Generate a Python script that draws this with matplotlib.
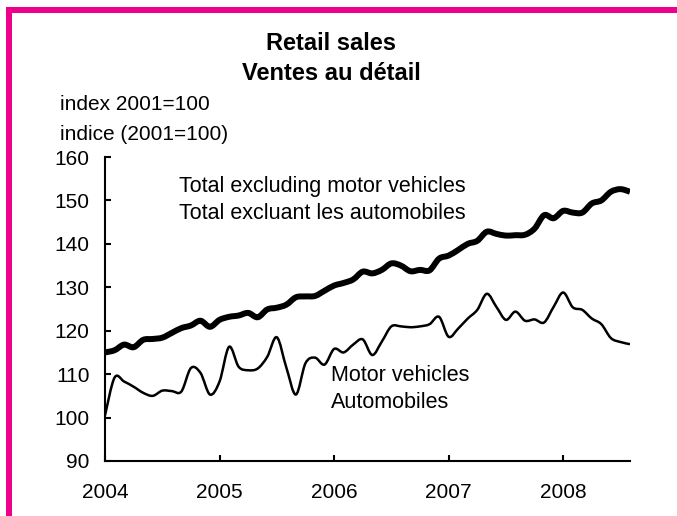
import numpy as np
import matplotlib
matplotlib.use("Agg")
import matplotlib.pyplot as plt
from matplotlib.patches import Rectangle, PathPatch
from matplotlib.path import Path

plt.rcParams["font.family"] = ["Liberation Sans", "DejaVu Sans"]

# Monthly index values, Jan 2004 - Aug 2008 (2001=100)
months = 2004 + np.arange(56) / 12.0

total_excl_motor = [
    115.0, 115.5, 116.8, 116.2, 117.9, 118.1, 118.4, 119.5, 120.6, 121.2, 122.3, 120.9,
    122.5, 123.2, 123.5, 124.1, 123.1, 124.9, 125.3, 126.0, 127.7, 127.9, 128.0, 129.2,
    130.4, 131.0, 131.8, 133.6, 133.2, 134.0, 135.5, 135.0, 133.7, 134.0, 133.9, 136.6,
    137.3, 138.6, 140.0, 140.7, 142.8, 142.3, 141.9, 142.0, 142.1, 143.5, 146.6, 145.9,
    147.6, 147.2, 147.2, 149.3, 150.0, 152.0, 152.6, 152.0,
]

motor_vehicles = [
    100.5, 109.2, 108.3, 107.1, 105.7, 105.0, 106.2, 106.1, 106.0, 111.4, 110.3, 105.3,
    108.3, 116.3, 111.7, 110.9, 111.3, 114.0, 118.5, 111.5, 105.3, 112.5, 113.8, 112.2,
    115.8, 115.0, 116.8, 118.0, 114.4, 117.5, 121.0, 121.0, 120.8, 121.0, 121.5, 123.2,
    118.6, 120.5, 122.8, 124.8, 128.5, 125.5, 122.5, 124.4, 122.3, 122.6, 121.9, 125.5,
    128.8, 125.4, 124.8, 122.8, 121.5, 118.3, 117.4, 116.9,
]

year_ticks = [2004, 2005, 2006, 2007, 2008]
y_ticks = [90, 100, 110, 120, 130, 140, 150, 160]


def smooth_path(x, y):
    # spreadsheet-style smoothed line: bezier segments through every data point
    p = np.column_stack([x, y])
    n = len(p)
    verts = [p[0]]
    codes = [Path.MOVETO]
    for i in range(n - 1):
        p0 = p[max(i - 1, 0)]
        p3 = p[min(i + 2, n - 1)]
        c1 = p[i] + (p[i + 1] - p0) / 6.0
        c2 = p[i + 1] - (p3 - p[i]) / 6.0
        verts += [c1, c2, p[i + 1]]
        codes += [Path.CURVE4] * 3
    return Path(verts, codes)


fig = plt.figure(figsize=(6.77, 5.16), dpi=100)
ax = fig.add_axes([105 / 677, 55 / 516, 525 / 677, 304 / 516])

ax.add_patch(PathPatch(smooth_path(months, total_excl_motor), fill=False,
                       edgecolor="black", linewidth=4.3, joinstyle="round", capstyle="butt"))
ax.add_patch(PathPatch(smooth_path(months, motor_vehicles), fill=False,
                       edgecolor="black", linewidth=1.8, joinstyle="round", capstyle="butt"))

ax.set_xlim(2004, 2004 + 55 / 12.0)
ax.set_ylim(90, 160)
ax.set_xticks(year_ticks)
ax.set_xticklabels([str(y) for y in year_ticks])
ax.set_yticks(y_ticks)

for s in ["top", "right"]:
    ax.spines[s].set_visible(False)
for s in ["left", "bottom"]:
    ax.spines[s].set_linewidth(1.5)

ax.tick_params(axis="both", direction="in", length=4.5, width=1.5, labelsize=15)
ax.tick_params(axis="y", pad=11)
ax.tick_params(axis="x", pad=16)

# annotations
ax.text(2004.65, 153.3, "Total excluding motor vehicles", fontsize=15.5, va="center")
ax.text(2004.65, 146.9, "Total excluant les automobiles", fontsize=15.5, va="center")
ax.text(2005.97, 109.6, "Motor vehicles", fontsize=15.5, va="center")
ax.text(2005.97, 103.4, "Automobiles", fontsize=15.5, va="center")

fig.text(331 / 677, 1 - 44 / 516, "Retail sales", fontsize=17, fontweight="bold", ha="center", va="center")
fig.text(331 / 677, 1 - 73 / 516, "Ventes au détail", fontsize=17, fontweight="bold", ha="center", va="center")
fig.text(60 / 677, 1 - 105 / 516, "index 2001=100", fontsize=15, va="center")
fig.text(60 / 677, 1 - 134 / 516, "indice (2001=100)", fontsize=15, va="center")

# pink frame (top and left)
pink = "#ec008c"
fig.add_artist(Rectangle((6 / 677, 0), 6 / 677, 1 - 7 / 516, transform=fig.transFigure, color=pink, lw=0))
fig.add_artist(Rectangle((6 / 677, 1 - 13 / 516), 1, 6 / 516, transform=fig.transFigure, color=pink, lw=0))

fig.savefig("out.png", dpi=100)
